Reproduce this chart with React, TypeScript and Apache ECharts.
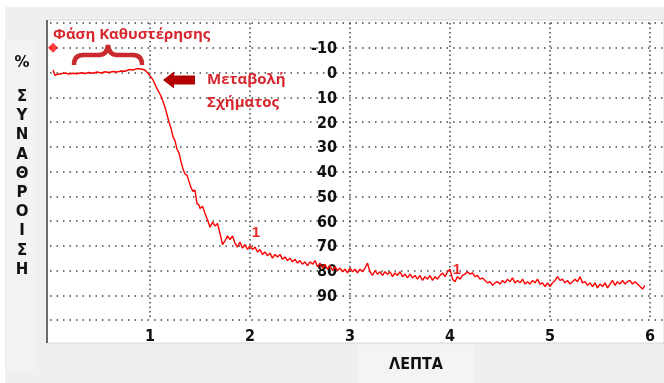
import React, { useEffect, useRef } from "react";
import * as echarts from "echarts";

// minutes, aggregation %
const curve: [number, number][] = [
  [0.03, -1], [0.05, 1.2], [0.07, 0.8], [0.11, 0.5], [0.15, 0.2], [0.19, 0.6], [0.23, 0.3],
  [0.27, 0.5], [0.31, 0.1], [0.35, 0.4], [0.39, 0.0], [0.43, 0.3], [0.47, -0.2],
  [0.51, 0.2], [0.55, -0.3], [0.59, 0.0], [0.63, -0.4], [0.67, -0.2], [0.71, -0.6],
  [0.75, -0.5], [0.79, -1.2], [0.83, -1.0], [0.87, -1.6], [0.91, -1.4], [0.95, -1.0],
  [0.99, 0.8], [1.03, 3], [1.07, 6.5], [1.11, 9.5], [1.15, 14], [1.19, 20], [1.21, 22.5],
  [1.23, 26], [1.25, 27.5], [1.27, 31], [1.29, 32.5], [1.31, 36], [1.33, 39], [1.35, 41],
  [1.37, 41.5], [1.39, 44], [1.41, 46.5], [1.43, 48], [1.45, 47.5], [1.47, 53], [1.49, 53.5],
  [1.50, 55], [1.525, 54], [1.55, 57], [1.575, 59.5], [1.60, 62.5], [1.625, 60.5], [1.65, 62],
  [1.675, 61], [1.70, 65], [1.725, 69.5], [1.75, 68], [1.775, 66], [1.80, 67.5], [1.825, 66],
  [1.85, 69], [1.875, 70.5], [1.90, 68.5], [1.925, 71], [1.95, 69.5], [1.975, 71.5], [2.00, 70],
  [2.025, 71.5], [2.05, 70.5], [2.075, 72.5], [2.10, 71.5], [2.125, 73.5], [2.15, 72.5],
  [2.175, 74], [2.20, 73], [2.225, 75], [2.25, 73.5], [2.275, 74.5], [2.30, 73.5], [2.325, 75.5],
  [2.35, 74.5], [2.375, 76], [2.40, 75], [2.425, 76.5], [2.45, 75.5], [2.475, 77], [2.50, 76],
  [2.525, 77.5], [2.55, 76.5], [2.575, 78], [2.60, 76.5], [2.625, 77.5], [2.65, 76], [2.675, 78.5],
  [2.70, 77], [2.725, 79], [2.75, 77.5], [2.775, 79.5], [2.80, 78], [2.825, 80], [2.85, 78.5],
  [2.875, 80], [2.90, 79], [2.925, 80.5], [2.95, 79.5], [2.975, 81], [3.00, 79], [3.025, 80.5],
  [3.05, 79.5], [3.075, 81], [3.10, 79.5], [3.125, 80.5], [3.15, 79], [3.175, 77], [3.20, 80.5],
  [3.225, 82], [3.25, 80], [3.275, 81.5], [3.30, 80.5], [3.325, 82], [3.35, 80.5], [3.375, 81.5],
  [3.40, 80.5], [3.425, 82.5], [3.45, 81], [3.475, 82], [3.50, 80.5], [3.525, 82.5], [3.55, 81.5],
  [3.575, 83], [3.60, 81.5], [3.625, 83], [3.65, 82], [3.675, 83.5], [3.70, 82], [3.725, 84],
  [3.75, 82.5], [3.775, 83.5], [3.80, 82], [3.825, 84], [3.85, 82.5], [3.875, 83.5], [3.90, 82],
  [3.925, 81], [3.95, 82.5], [3.975, 80.5], [4.00, 79.5], [4.025, 83.5], [4.05, 84.5],
  [4.075, 82.5], [4.10, 83.5], [4.125, 82], [4.15, 81.5], [4.175, 80.5], [4.20, 81.5],
  [4.225, 81], [4.25, 82.5], [4.275, 82], [4.30, 83.5], [4.325, 83], [4.35, 84], [4.375, 85],
  [4.40, 84.5], [4.425, 86], [4.45, 85], [4.475, 84.5], [4.50, 85.5], [4.525, 84], [4.55, 85],
  [4.575, 83.5], [4.60, 84.5], [4.625, 83], [4.65, 85], [4.675, 84], [4.70, 85], [4.725, 83.5],
  [4.75, 85.5], [4.775, 84.5], [4.80, 85.5], [4.825, 84], [4.85, 85], [4.875, 83.5], [4.90, 85.5],
  [4.925, 85], [4.95, 86.5], [4.975, 85], [5.00, 86.5], [5.025, 85], [5.05, 84], [5.075, 82.5],
  [5.10, 84], [5.125, 83.5], [5.15, 85], [5.175, 84], [5.20, 85.5], [5.225, 84.5], [5.25, 83.5],
  [5.275, 84.5], [5.30, 82.5], [5.325, 85], [5.35, 84.5], [5.375, 86], [5.40, 85], [5.425, 86.5],
  [5.45, 85], [5.475, 87], [5.50, 85.5], [5.525, 86.5], [5.55, 85], [5.575, 87], [5.60, 85.5],
  [5.625, 84], [5.65, 86], [5.675, 84.5], [5.70, 85.5], [5.725, 84], [5.75, 85.5], [5.775, 84.5],
  [5.80, 84], [5.825, 85.5], [5.85, 84.5], [5.875, 85.5], [5.90, 86.5], [5.925, 87.5], [5.95, 86],
];
const startMarker: [number, number][] = [[0.03, -10]];
const yTitle = ["Σ", "Υ", "Ν", "Α", "Θ", "Ρ", "Ο", "Ι", "Σ", "Η"];
const xTitle = "ΛΕΠΤΑ";
const lagText = "Φάση Καθυστέρησης";
const changeText = ["Μεταβολή", "Σχήματος"];
const curveLabel = "1";

const RED = "#d7262c";
const TICK_FONT = "'Liberation Sans Narrow', 'DejaVu Sans Condensed', 'Liberation Sans', sans-serif";
const TITLE_FONT = "'DejaVu Sans', 'Liberation Sans', sans-serif";

echarts.graphic.registerShape(
  "brace",
  echarts.graphic.extendPath(
    "M74,65 Q74,55 83,55 L99,55 Q107,55 108,45 Q109,55 117,55 L133,55 Q142,55 142,65",
    {}
  )
);

const txt = (x: number, y: number, text: string, size: number, weight: string, color: string, family: string, align = "center") => ({
  type: "text", x, y, z: 20,
  style: { text, fontSize: size, fontWeight: weight, fontFamily: family, fill: color, align, verticalAlign: "middle" },
});

export default function App() {
  const ref = useRef<HTMLDivElement>(null);
  useEffect(() => {
    const chart = echarts.init(ref.current!, undefined, { renderer: "svg" });
    const graphics: any[] = [
      { type: "rect", z: -10, shape: { x: 0, y: 0, width: 664, height: 383 }, style: { fill: "#ffffff" }, silent: true },
      { type: "rect", z: -9, shape: { x: 5, y: 7, width: 659, height: 376 }, style: { fill: "#efefef" }, silent: true },
      { type: "rect", z: -8, shape: { x: 6, y: 40, width: 30, height: 330 }, style: { fill: "#f3f3f3" }, silent: true },
      { type: "rect", z: -8, shape: { x: 358, y: 345, width: 117, height: 38 }, style: { fill: "#f4f4f4" }, silent: true },
      { type: "rect", z: -7, shape: { x: 47, y: 20, width: 617, height: 323 }, style: { fill: "#ffffff", stroke: "#d8d8d8", lineWidth: 1 }, silent: true },
      { type: "line", z: 5, shape: { x1: 47, y1: 20, x2: 47, y2: 343 }, style: { stroke: "#6a6a6a", lineWidth: 2 }, silent: true },
      txt(22, 62, "%", 15, "bold", "#111", TITLE_FONT),
      ...yTitle.map((ch, i) => txt(22, 96 + i * 19.2, ch, 15, "bold", "#111", TITLE_FONT)),
      txt(416, 363, xTitle, 16, "bold", "#111", TICK_FONT),
      txt(53, 33, lagText, 15, "bold", RED, "'Open Sans', sans-serif", "left"),
      { type: "brace", z: 10, x: 0, y: 0, style: { stroke: "#c82a2e", lineWidth: 4.5, fill: "none" } },
      {
        type: "polygon", z: 10,
        shape: { points: [[163, 80], [174, 71.5], [174, 75.5], [195, 75.5], [195, 84.5], [174, 84.5], [174, 88.5]] },
        style: { fill: "#b40000" },
      },
      txt(207, 78, changeText[0], 15, "bold", RED, "'Open Sans', sans-serif", "left"),
      txt(207, 101, changeText[1], 15, "bold", RED, "'Open Sans', sans-serif", "left"),
      txt(256, 231, curveLabel, 15, "bold", "#e8262a", "'Liberation Sans', sans-serif"),
      txt(457, 268, curveLabel, 15, "bold", "#e8262a", "'Liberation Sans', sans-serif"),
    ];
    chart.setOption({
      animation: false,
      backgroundColor: "transparent",
      grid: { left: 50, right: 0, top: 23, bottom: 63, containLabel: false },
      xAxis: {
        type: "value", min: 0, max: 6.14, interval: 1,
        axisLine: { show: false }, axisTick: { show: false },
        axisLabel: {
          margin: 7, color: "#111", fontWeight: "bold", fontSize: 16, fontFamily: TICK_FONT,
          formatter: (v: number) => (v === 0 ? "" : String(v)),
        },
        splitLine: {
          show: true,
          lineStyle: { color: ["rgba(0,0,0,0)", "#444", "#444", "#444", "#444", "#444", "#444"], type: [1.5, 3], width: 1.5 },
        },
      },
      yAxis: {
        type: "value", min: -20, max: 100, interval: 10, inverse: true,
        position: "left", offset: -300,
        axisLine: { show: false }, axisTick: { show: false },
        axisLabel: {
          margin: 13, color: "#111", fontWeight: "bold", fontSize: 16, fontFamily: TICK_FONT,
          formatter: (v: number) => (v === -20 || v === 100 ? "" : String(v)),
        },
        splitLine: { show: true, lineStyle: { color: "#444", type: [1.5, 5], width: 1.5 } },
      },
      series: [
        {
          type: "line", data: curve, showSymbol: false, symbol: "none",
          lineStyle: { color: "#ff0000", width: 1.4 }, z: 3,
        },
        {
          type: "scatter", data: startMarker, symbol: "diamond", symbolSize: 10,
          itemStyle: { color: "#ff0a0a" }, z: 4,
        },
      ],
      graphic: graphics,
    });
    return () => chart.dispose();
  }, []);
  return <div ref={ref} style={{ position: "fixed", left: 0, top: 0, width: 664, height: 383 }} />;
}
